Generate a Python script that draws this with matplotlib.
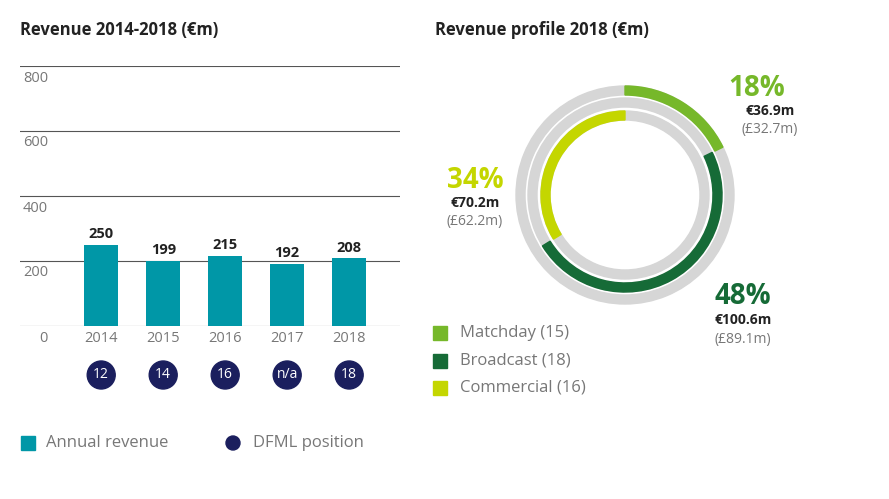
import matplotlib
matplotlib.use("Agg")
import matplotlib.pyplot as plt
from matplotlib.patches import Wedge, Circle, Rectangle

years = ["2014", "2015", "2016", "2017", "2018"]
revenue = [250, 199, 215, 192, 208]
positions = ["12", "14", "16", "n/a", "18"]
yticks = [0, 200, 400, 600, 800]
seg_names = ["Matchday (15)", "Broadcast (18)", "Commercial (16)"]
seg_eur = [36.9, 100.6, 70.2]
seg_gbp = [32.7, 89.1, 62.2]
seg_pct = [18, 48, 34]

plt.rcParams['font.family'] = ['Open Sans', 'DejaVu Sans']
TEAL = "#0097a7"; NAVY = "#1b1f5e"; GRAY = "#d6d6d6"; TXT = "#777777"
COLS = ["#76b82a", "#166b37", "#c4d600"]

fig = plt.figure(figsize=(8.89, 4.99), dpi=100)
W, H = 889, 499
ax = fig.add_axes([20/W, (H-326)/H, 380/W, 260/H])
xs = list(range(len(years)))
ax.bar(xs, revenue, width=0.55, color=TEAL, zorder=3)
ax.set_xlim(-1.31, 4.82); ax.set_ylim(0, 800)
for v in yticks:
    ax.axhline(v, color="#555555", lw=0.8, zorder=1)
for s in ax.spines.values(): s.set_visible(False)
ax.set_xticks([]); ax.set_yticks([])
for x, v in zip(xs, revenue):
    ax.text(x, v + 12, str(v), ha="center", va="bottom", fontsize=10.5, fontweight="bold", color="#222222")

o = fig.add_axes([0, 0, 1, 1]); o.set_xlim(0, W); o.set_ylim(H, 0); o.axis("off")
for v in yticks:
    y = 326 - v * 260 / 800 + 12
    o.text(48, y, str(v), ha="right" if v else "right", va="center", fontsize=10.5, color=TXT)
for x, yr, p in zip(xs, years, positions):
    px = 20 + (x + 1.31) * 380 / 6.13
    o.text(px, 338, yr, ha="center", va="center", fontsize=10.5, color=TXT)
    o.add_patch(Circle((px, 375), 14, color=NAVY))
    o.text(px, 375, p, ha="center", va="center", fontsize=10, color="white")
o.text(20, 30, "Revenue 2014-2018 (€m)", fontsize=12, fontweight="bold", color="#222222", va="center")
o.add_patch(Rectangle((21, 436), 14, 14, color=TEAL))
o.text(46, 443, "Annual revenue", fontsize=12, color=TXT, va="center")
o.add_patch(Circle((233, 443), 7, color=NAVY))
o.text(253, 443, "DFML position", fontsize=12, color=TXT, va="center")

# donut
o.text(435, 30, "Revenue profile 2018 (€m)", fontsize=12, fontweight="bold", color="#222222", va="center")
cx, cy = 625, 195
radii = [109, 97, 84]
wd = 9
total = sum(seg_eur)
a = 0
for i, v in enumerate(seg_eur):
    ang = v / total * 360
    r = radii[i]
    o.add_patch(Wedge((cx, cy), r, 0, 360, width=wd, color=GRAY))
    o.add_patch(Wedge((cx, cy), r, a - 90, a + ang - 90, width=wd, color=COLS[i]))
    a += ang
lab = [(757, 88), (743, 297), (475, 180)]
for i, (lx, ly) in enumerate(lab):
    o.text(lx, ly, f"{seg_pct[i]}%", ha="center", va="center", fontsize=20, fontweight="bold", color=COLS[i])
    o.text(lx + 13 if i == 0 else lx, ly + 23, f"€{seg_eur[i]}m", ha="center", va="center", fontsize=10, fontweight="bold", color="#222222")
    o.text(lx + 13 if i == 0 else lx, ly + 42, f"(£{seg_gbp[i]}m)", ha="center", va="center", fontsize=10, color=TXT)
for i, n in enumerate(seg_names):
    y = 333 + i * 27.5
    o.add_patch(Rectangle((433, y - 7), 14, 14, color=COLS[i]))
    o.text(460, y, n, fontsize=12, color=TXT, va="center")

fig.savefig("out.png", dpi=100)
